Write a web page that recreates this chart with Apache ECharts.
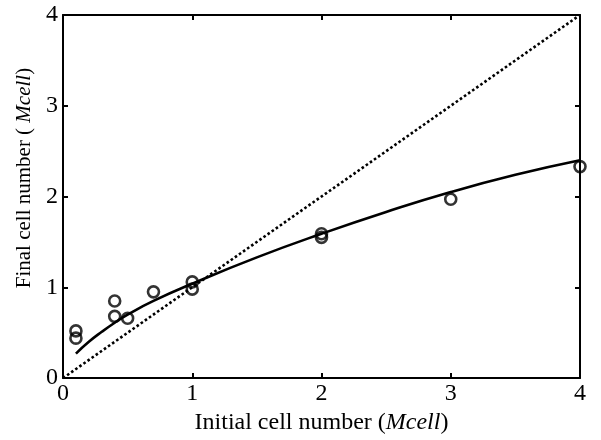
<!DOCTYPE html>
<html>
<head>
<meta charset="utf-8">
<script src="https://cdn.jsdelivr.net/npm/echarts@6/dist/echarts.min.js"></script>
<style>html,body{margin:0;padding:0;background:#fff}#c{width:601px;height:440px}</style>
</head>
<body>
<div id="c"></div>
<script>
// Measured data (open circles)
const pointX = [0.1, 0.1, 0.4, 0.4, 0.5, 0.7, 1, 1, 2, 2, 3, 4];
const pointY = [0.52, 0.44, 0.85, 0.68, 0.66, 0.95, 1.06, 0.98, 1.59, 1.55, 1.97, 2.33];
// Fitted curve
const fitX = [0.1, 0.2, 0.3, 0.4, 0.5, 0.7, 1, 1.5, 2, 2.5, 3, 3.5, 4];
const fitY = [0.27, 0.40, 0.51, 0.61, 0.70, 0.85, 1.04, 1.33, 1.59, 1.83, 2.05, 2.24, 2.40];
// Identity line
const idX = [0, 4];
const idY = [0, 4];
const ticks = [0, 1, 2, 3, 4];

const font = 'Liberation Serif, Times New Roman, serif';
const chart = echarts.init(document.getElementById('c'), null, {renderer: 'canvas'});

const baseAxis = {
  type: 'value', min: 0, max: 4, interval: 1,
  axisLine: {show: true, onZero: false, lineStyle: {color: '#000', width: 2}},
  axisTick: {show: true, inside: true, length: 5, lineStyle: {color: '#000', width: 2}},
  splitLine: {show: false}
};

chart.setOption({
  animation: false,
  backgroundColor: '#fff',
  grid: {left: 63, right: 21, top: 15, bottom: 55},
  xAxis: [
    Object.assign({}, baseAxis, {
      position: 'bottom',
      axisLabel: {color: '#000', fontFamily: font, fontSize: 24, margin: 4,
        formatter: v => ticks.includes(v) ? String(v) : ''},
      name: 'Initial cell number ({i|Mcell})',
      nameLocation: 'middle', nameGap: 24,
      nameTextStyle: {color: '#000', fontFamily: font, fontSize: 24,
        rich: {i: {fontFamily: font, fontSize: 24, fontStyle: 'italic', color: '#000'}}}
    }),
    Object.assign({}, baseAxis, {position: 'top', axisLabel: {show: false}})
  ],
  yAxis: [
    Object.assign({}, baseAxis, {
      position: 'left',
      axisLabel: {color: '#000', fontFamily: font, fontSize: 24, margin: 5,
        formatter: v => ticks.includes(v) ? String(v) : ''},
      name: 'Final cell number ( {i|Mcell})',
      nameLocation: 'middle', nameGap: 28, nameRotate: 90,
      nameTextStyle: {color: '#000', fontFamily: font, fontSize: 21, padding: [0, 0, 0, 37],
        rich: {i: {fontFamily: font, fontSize: 21, fontStyle: 'italic', color: '#000'}}}
    }),
    Object.assign({}, baseAxis, {position: 'right', axisLabel: {show: false}})
  ],
  series: [
    {
      type: 'line', data: idX.map((x, i) => [x, idY[i]]),
      showSymbol: false, symbol: 'none',
      lineStyle: {color: '#000', width: 2.6, type: [2.6, 2.4]},
      z: 2
    },
    {
      type: 'line', data: fitX.map((x, i) => [x, fitY[i]]),
      smooth: 0.5, showSymbol: false, symbol: 'none',
      lineStyle: {color: '#000', width: 2.6},
      z: 3
    },
    {
      type: 'scatter', data: pointX.map((x, i) => [x, pointY[i]]),
      symbol: 'circle', symbolSize: 11,
      itemStyle: {color: 'rgba(0,0,0,0)', borderColor: '#000', borderWidth: 2.6},
      z: 4
    }
  ]
});
</script>
</body>
</html>
